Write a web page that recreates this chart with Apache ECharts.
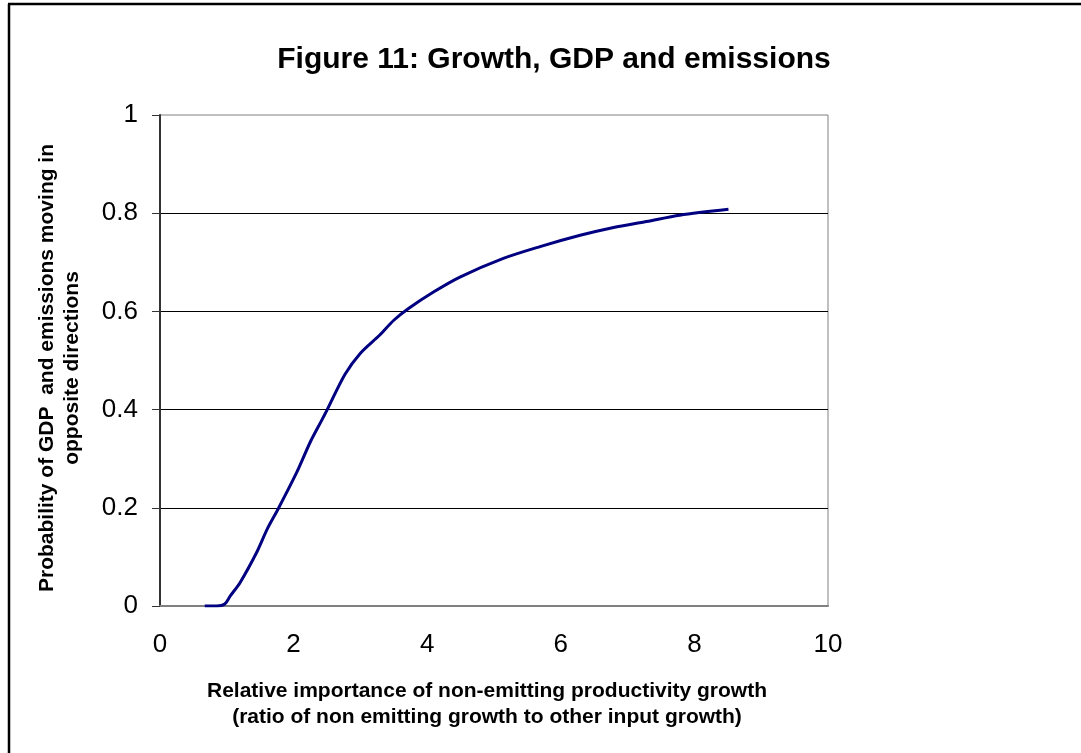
<!DOCTYPE html>
<html>
<head>
<meta charset="utf-8">
<script src="https://cdn.jsdelivr.net/npm/echarts@6/dist/echarts.min.js"></script>
<style>
html,body{margin:0;padding:0;background:#fff;}
#chart{width:1081px;height:753px;}
</style>
</head>
<body>
<div id="chart"></div>
<script>
var titleText = 'Figure 11: Growth, GDP and emissions';
var xTitle = 'Relative importance of non-emitting productivity growth\n(ratio of non emitting growth to other input growth)';
var yTitle = 'Probability of GDP  and emissions moving in\nopposite directions';
var xValues = [0.67, 0.85, 0.97, 1.05, 1.2, 1.45, 1.61, 1.77, 2.05, 2.25, 2.42, 2.5, 2.77, 3.0, 3.29, 3.5, 3.72, 4.1, 4.49, 5.14, 5.69, 6.29, 6.79, 7.28, 7.78, 8.51];
var yValues = [0, 0, 0.004, 0.02, 0.048, 0.11, 0.158, 0.198, 0.273, 0.334, 0.378, 0.399, 0.472, 0.515, 0.552, 0.582, 0.606, 0.64, 0.670, 0.708, 0.732, 0.755, 0.771, 0.783, 0.796, 0.808];

var seriesData = xValues.map(function (x, i) { return [x, yValues[i]]; });
var font = 'Arial, "Liberation Sans", sans-serif';

var chart = echarts.init(document.getElementById('chart'));
chart.setOption({
  backgroundColor: '#ffffff',
  animation: false,
  title: {
    text: titleText,
    left: 549,
    top: 40,
    textAlign: 'center',
    textStyle: { fontFamily: font, fontSize: 30, fontWeight: 'bold', color: '#000' }
  },
  grid: {
    left: 160, right: 253, top: 115, bottom: 147,
    show: true, borderColor: '#808080', borderWidth: 1, backgroundColor: 'transparent'
  },
  xAxis: {
    type: 'value', min: 0, max: 10, interval: 2,
    axisLine: { show: true, lineStyle: { color: '#808080', width: 2 } },
    axisTick: { show: false },
    splitLine: { show: false },
    axisLabel: { fontFamily: font, fontSize: 26, color: '#000', margin: 26 }
  },
  yAxis: {
    type: 'value', min: 0, max: 1, interval: 0.2,
    axisLine: { show: true, lineStyle: { color: '#333', width: 2 } },
    axisTick: { show: true, inside: false, length: 8, lineStyle: { color: '#333', width: 1 } },
    splitLine: { show: true, showMinLine: false, showMaxLine: false, lineStyle: { color: '#000', width: 1 } },
    axisLabel: { fontFamily: font, fontSize: 26, color: '#000', margin: 22 }
  },
  graphic: [
    { type: 'line', shape: { x1: 9, y1: 4, x2: 9, y2: 753 }, style: { stroke: '#000', lineWidth: 2.5 } },
    { type: 'line', shape: { x1: 8, y1: 4, x2: 1081, y2: 4 }, style: { stroke: '#000', lineWidth: 2.5 } },
    {
      type: 'text', x: 60, y: 368, rotation: Math.PI / 2,
      style: { text: yTitle, fontFamily: font, fontSize: 21, fontWeight: 'bold', fill: '#000',
        align: 'center', verticalAlign: 'middle', lineHeight: 25 }
    },
    {
      type: 'text', x: 487, y: 704,
      style: { text: xTitle, fontFamily: font, fontSize: 21, fontWeight: 'bold', fill: '#000',
        align: 'center', verticalAlign: 'middle', lineHeight: 26 }
    }
  ],
  series: [{
    type: 'line',
    data: seriesData,
    showSymbol: false,
    smooth: 0.3,
    lineStyle: { color: '#000080', width: 3 },
    itemStyle: { color: '#000080' }
  }]
});
</script>
</body>
</html>
